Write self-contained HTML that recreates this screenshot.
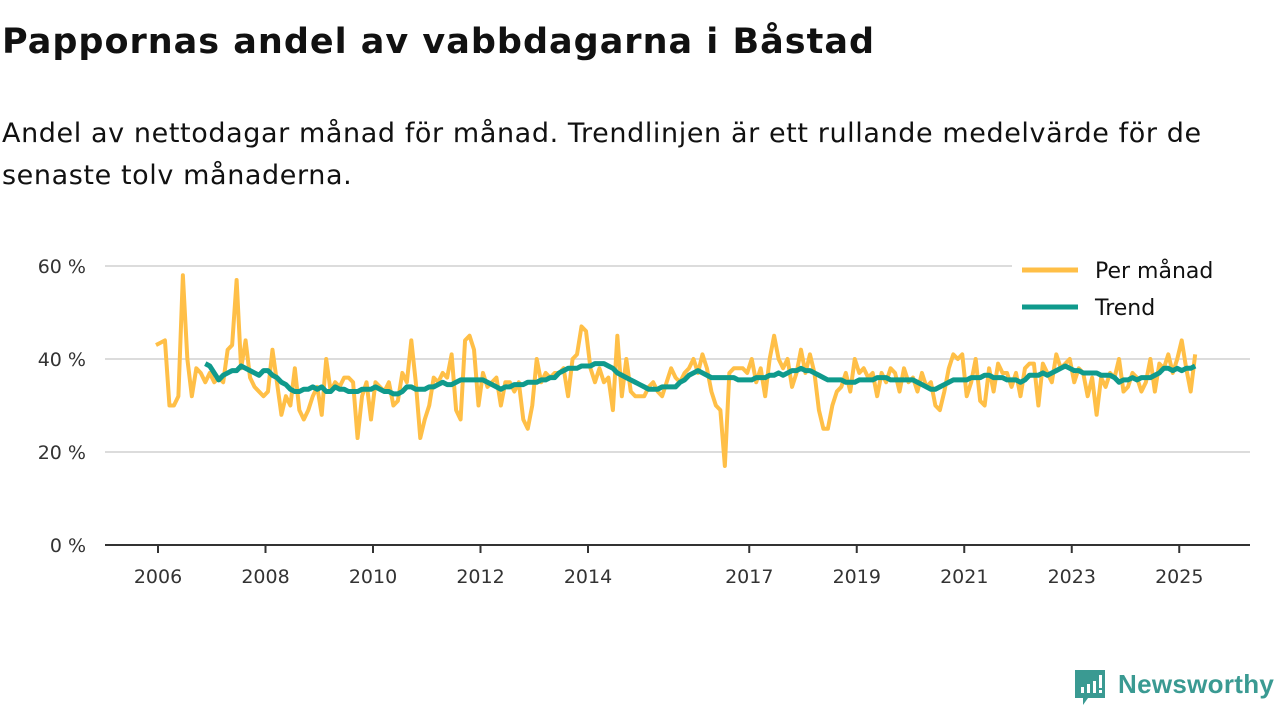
<!DOCTYPE html>
<html><head><meta charset="utf-8">
<style>
body{margin:0;background:#fff;width:1280px;height:720px;overflow:hidden;font-family:"DejaVu Sans","Liberation Sans",sans-serif;color:#111;position:relative}
h1{position:absolute;left:2px;top:22px;margin:0;font-size:35px;font-weight:bold;letter-spacing:1px}
.sub{position:absolute;left:2px;top:113px;margin:0;font-size:27px;line-height:42px;width:1275px;white-space:nowrap;letter-spacing:0.6px}
svg{position:absolute;left:0;top:0}
</style></head><body>
<h1>Pappornas andel av vabbdagarna i Båstad</h1>
<p class="sub">Andel av nettodagar månad för månad. Trendlinjen är ett rullande medelvärde för de<br>senaste tolv månaderna.</p>
<svg id="chart" width="1280" height="720"></svg>
<div style="position:absolute;left:1073px;top:668px;width:206px;height:40px">
<svg width="34" height="38" style="position:absolute;left:0;top:0"><path d="M2 2h30v28H15l-5 7v-7H2z" fill="#3a9a92"/><rect x="8" y="19" width="3" height="6" fill="#fff"/><rect x="14" y="16" width="3" height="9" fill="#fff"/><rect x="20" y="13" width="3" height="12" fill="#fff"/><rect x="26" y="7" width="3" height="13" fill="#fff"/><rect x="26" y="22" width="3" height="3" fill="#fff"/></svg>
<span style="position:absolute;left:45px;top:1px;font-size:26px;color:#3a9a92;font-weight:bold;font-family:'Liberation Sans',sans-serif;letter-spacing:0.3px">Newsworthy</span>
</div>
<script>
const yTicks=[0,20,40,60];
const xTickYears=[2006,2008,2010,2012,2014,2017,2019,2021,2023,2025];
const monthly=[
43,43.5,44,30,30,32,58,40,32,38,37,35,
37,35,36,35,42,43,57,38,44,36,34,33,
32,33,42,35,28,32,30,38,29,27,29,32,
34,28,40,33,35,34,36,36,35,23,32,35,
27,35,34,33,35,30,31,37,35,44,35,23,
27,30,36,35,37,36,41,29,27,44,45,42,
30,37,34,35,36,30,35,35,33,35,27,25,
30,40,35,37,36,37,37,38,32,40,41,47,
46,38,35,38,35,36,29,45,32,40,33,32,
32,32,34,35,33,32,35,38,36,35,37,38,
40,37,41,38,33,30,29,17,37,38,38,38,
37,40,35,38,32,40,45,40,38,40,34,37,
42,37,41,37,29,25,25,30,33,34,37,33,
40,37,38,36,37,32,37,35,38,37,33,38,
35,36,33,37,34,35,30,29,33,38,41,40,
41,32,35,40,31,30,38,33,39,37,37,34,
37,32,38,39,39,30,39,37,35,41,38,39,
40,35,38,37,32,36,28,36,34,37,36,40,
33,34,37,36,33,35,40,33,39,38,41,37,
40,44,38,33,41];
const trendStartIndex=11;
const trend=[39,
38.5,37,35.5,36.5,37,37.5,37.5,38.5,38,37.5,37,36.5,
37.5,37.5,36.5,36,35,34.5,33.5,33,33,33.5,33.5,34,
33.5,34,33,33,34,33.5,33.5,33,33,33,33.5,33.5,
33.5,34,33.5,33,33,32.5,32.5,33,34,34,33.5,33.5,
33.5,34,34,34.5,35,34.5,34.5,35,35.5,35.5,35.5,35.5,
35.5,35.5,35,34.5,34,33.5,34,34,34.5,34.5,34.5,35,
35,35,35.5,35.5,36,36,37,37.5,38,38,38,38.5,
38.5,38.5,39,39,39,38.5,38,37,36.5,36,35.5,35,
34.5,34,33.5,33.5,33.5,34,34,34,34,35,35.5,36.5,
37,37.5,37,36.5,36,36,36,36,36,36,35.5,35.5,
35.5,35.5,36,36,36,36.5,36.5,37,36.5,37,37.5,37.5,
38,37.5,37.5,37,36.5,36,35.5,35.5,35.5,35.5,35,35,
35,35.5,35.5,35.5,35.5,36,36,36,35.5,35.5,35.5,35.5,
35.5,35.5,35,34.5,34,33.5,33.5,34,34.5,35,35.5,35.5,
35.5,35.5,36,36,36,36.5,36.5,36,36,36,35.5,35.5,
35.5,35,35.5,36.5,36.5,36.5,37,36.5,37,37.5,38,38.5,
38,37.5,37.5,37,37,37,37,36.5,36.5,36.5,36,35,
35.5,35.5,36,35.5,36,36,36,36.5,37,38,38,37.5,
38,37.5,38,38,38.5];
const NS='http://www.w3.org/2000/svg';
const svg=document.getElementById('chart');
const x=t=>158+(t-2006)*53.75;
const xm=i=>x(2006+i/12)-2;
const y=v=>545-v*4.65;
const FF='DejaVu Sans, Liberation Sans, sans-serif';
function mk(tag,attrs,parent){const e=document.createElementNS(NS,tag);for(const k in attrs)e.setAttribute(k,attrs[k]);(parent||svg).appendChild(e);return e;}
yTicks.forEach(v=>{
  if(v>0){const g=mk('line',{x1:105,x2:1250,y1:y(v),y2:y(v),stroke:'#dcdcdc','stroke-width':2});
  
  }
  const t=mk('text',{x:86,y:y(v)+7,'text-anchor':'end','font-size':19,fill:'#333','font-family':FF});
  t.textContent=v+' %';
  
  
});
const ax=mk('line',{x1:105,x2:1250,y1:545,y2:545,stroke:'#333','stroke-width':2});


xTickYears.forEach(yr=>{
  const tk=mk('line',{x1:x(yr),x2:x(yr),y1:545,y2:553,stroke:'#333','stroke-width':2});
  
  
  const t=mk('text',{x:x(yr),y:583,'text-anchor':'middle','font-size':19,fill:'#333','font-family':FF});
  t.textContent=yr;
  
  
});
const p1=mk('polyline',{points:monthly.map((v,i)=>xm(i)+','+y(v)).join(' '),fill:'none',stroke:'#ffbf47','stroke-width':4,'stroke-linejoin':'round'});


const p2=mk('polyline',{points:trend.map((v,i)=>xm(i+trendStartIndex)+','+y(v)).join(' '),fill:'none',stroke:'#0f9a8c','stroke-width':5,'stroke-linejoin':'round'});


const lg=mk('rect',{x:1012,y:250,width:240,height:78,fill:'#fff'});


[['Per månad','#ffbf47',270],['Trend','#0f9a8c',307]].forEach(([lab,c,yy])=>{
  const l=mk('line',{x1:1022,x2:1078,y1:yy,y2:yy,stroke:c,'stroke-width':5});
  
  
  const t=mk('text',{x:1095,y:yy+8,'font-size':22,fill:'#111','font-family':FF});
  t.textContent=lab;
  
  
});
</script>
</body></html>
